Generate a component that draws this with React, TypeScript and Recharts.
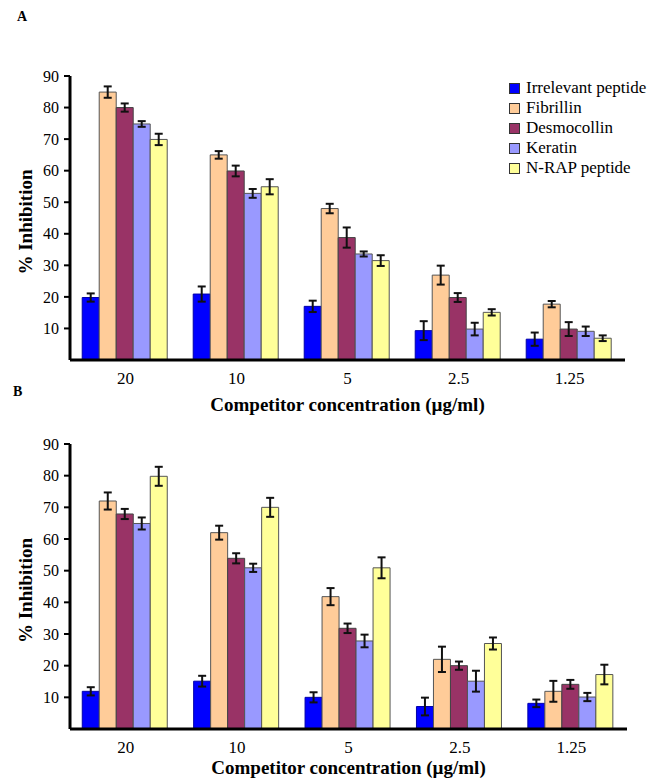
import { BarChart, Bar, XAxis, YAxis, Legend, ErrorBar } from "recharts";

const categories = ["20", "10", "5", "2.5", "1.25"];
const yTicks = [10, 20, 30, 40, 50, 60, 70, 80, 90];

// panel A
const irrelevantA = [19.8, 20.9, 17, 9.3, 6.6];
const irrelevantAErr = [1.3, 2.4, 1.8, 3, 2.1];
const fibrillinA = [84.9, 65, 48, 26.9, 17.7];
const fibrillinAErr = [1.8, 1.2, 1.5, 3, 1];
const desmocollinA = [80, 59.9, 38.8, 19.8, 9.8];
const desmocollinAErr = [1.3, 1.7, 3.2, 1.4, 2.2];
const keratinA = [74.8, 52.8, 33.6, 9.8, 9.1];
const keratinAErr = [0.9, 1.4, 0.8, 2, 1.5];
const nrapA = [69.9, 54.9, 31.5, 15.1, 6.9];
const nrapAErr = [1.8, 2.4, 1.7, 1, 0.9];

// panel B
const irrelevantB = [11.9, 15.1, 10, 7.1, 8.1];
const irrelevantBErr = [1.3, 1.7, 1.6, 2.8, 1.2];
const fibrillinB = [72, 62, 41.8, 22, 11.9];
const fibrillinBErr = [2.7, 2.2, 2.7, 4, 3.3];
const desmocollinB = [67.9, 53.9, 31.8, 20, 14.1];
const desmocollinBErr = [1.6, 1.6, 1.5, 1.3, 1.4];
const keratinB = [64.9, 50.9, 27.8, 15.1, 10.1];
const keratinBErr = [1.9, 1.3, 2, 3.3, 1.3];
const nrapB = [79.8, 70, 50.9, 27, 17.2];
const nrapBErr = [3, 3, 3.3, 1.9, 3.1];

const series = [
  { key: "irrelevant", name: "Irrelevant peptide", fill: "#0000ff", stroke: "#0000aa" },
  { key: "fibrillin", name: "Fibrillin", fill: "#ffcc99", stroke: "#555555" },
  { key: "desmocollin", name: "Desmocollin", fill: "#993366", stroke: "#444444" },
  { key: "keratin", name: "Keratin", fill: "#9999ff", stroke: "#555555" },
  { key: "nrap", name: "N-RAP peptide", fill: "#ffff99", stroke: "#555555" },
];

const dataA = categories.map((cat, i) => ({
  cat,
  irrelevant: irrelevantA[i], irrelevantErr: irrelevantAErr[i],
  fibrillin: fibrillinA[i], fibrillinErr: fibrillinAErr[i],
  desmocollin: desmocollinA[i], desmocollinErr: desmocollinAErr[i],
  keratin: keratinA[i], keratinErr: keratinAErr[i],
  nrap: nrapA[i], nrapErr: nrapAErr[i],
}));

const dataB = categories.map((cat, i) => ({
  cat,
  irrelevant: irrelevantB[i], irrelevantErr: irrelevantBErr[i],
  fibrillin: fibrillinB[i], fibrillinErr: fibrillinBErr[i],
  desmocollin: desmocollinB[i], desmocollinErr: desmocollinBErr[i],
  keratin: keratinB[i], keratinErr: keratinBErr[i],
  nrap: nrapB[i], nrapErr: nrapBErr[i],
}));

const FONT = "'Liberation Serif', 'Times New Roman', serif";

function LegendBox() {
  return (
    <div style={{ fontFamily: FONT, fontSize: 17, color: "#000", whiteSpace: "nowrap", textAlign: "left" }}>
      {series.map((s) => (
        <div key={s.key} style={{ display: "flex", alignItems: "center", height: 20 }}>
          <span
            style={{
              display: "inline-block",
              width: 9,
              height: 9,
              background: s.fill,
              border: "1px solid #333",
              marginRight: 6,
            }}
          />
          <span>{s.name}</span>
        </div>
      ))}
    </div>
  );
}

function xTitle(dy: number) {
  return (props: any) => {
    const vb = props.viewBox;
    return (
      <text
        x={vb.x + vb.width / 2}
        y={vb.y + dy}
        textAnchor="middle"
        fontFamily={FONT}
        fontWeight="bold"
        fontSize={19}
        fill="#000"
      >
        Competitor concentration (µg/ml)
      </text>
    );
  };
}

function yTitle(props: any) {
  const vb = props.viewBox;
  const cx = 25;
  const cy = vb.y + vb.height / 2 + 4;
  return (
    <text
      x={cx}
      y={cy}
      transform={`rotate(-90 ${cx} ${cy})`}
      textAnchor="middle"
      dominantBaseline="central"
      fontFamily={FONT}
      fontWeight="bold"
      fontSize={19}
      fill="#000"
    >
      % Inhibition
    </text>
  );
}

function Panel({ data, height, marginTop, marginRight, xAxisHeight, titleDy, legend }: any) {
  return (
    <BarChart
      width={647}
      height={height}
      data={data}
      margin={{ top: marginTop, right: marginRight, left: 0, bottom: 0 }}
      barCategoryGap="11%"
      barGap={0}
    >
      <XAxis
        dataKey="cat"
        height={xAxisHeight}
        tickLine={false}
        axisLine={{ stroke: "#000", strokeWidth: 3 }}
        tick={{ fontSize: 17, fill: "#000", fontFamily: FONT }}
        tickMargin={6}
        label={{ content: xTitle(titleDy) }}
      />
      <YAxis
        width={70}
        domain={[0, 90]}
        ticks={yTicks}
        interval={0}
        tickSize={6}
        tickMargin={5}
        tickLine={{ stroke: "#000", strokeWidth: 2 }}
        axisLine={{ stroke: "#000", strokeWidth: 3 }}
        tick={{ fontSize: 16, fill: "#000", fontFamily: FONT }}
        label={{ content: yTitle }}
      />
      {legend && (
        <Legend
          layout="vertical"
          verticalAlign="middle"
          align="center"
          content={() => <LegendBox />}
          wrapperStyle={{ top: 78, left: 509, right: "auto", bottom: "auto", width: 160 }}
        />
      )}
      {series.map((s) => (
        <Bar
          key={s.key}
          dataKey={s.key}
          name={s.name}
          fill={s.fill}
          stroke={s.stroke}
          strokeWidth={1}
          isAnimationActive={false}
        >
          <ErrorBar
            dataKey={`${s.key}Err`}
            width={4}
            strokeWidth={2}
            stroke="#111"
            direction="y"
            isAnimationActive={false}
          />
        </Bar>
      ))}
    </BarChart>
  );
}

export default function App() {
  return (
    <div
      style={{
        position: "absolute",
        left: 0,
        top: 0,
        width: 647,
        height: 779,
        overflow: "hidden",
        background: "#fff",
        fontFamily: FONT,
      }}
    >
      <div style={{ position: "absolute", left: 17, top: 9, fontWeight: "bold", fontSize: 14 }}>A</div>
      <div style={{ position: "absolute", left: 13, top: 384, fontWeight: "bold", fontSize: 14 }}>B</div>
      <div style={{ position: "absolute", left: 0, top: 0 }}>
        <Panel
          data={dataA}
          height={415}
          marginTop={76}
          marginRight={22}
          xAxisHeight={55}
          titleDy={51}
          legend
        />
      </div>
      <div style={{ position: "absolute", left: 0, top: 390 }}>
        <Panel
          data={dataB}
          height={389}
          marginTop={54}
          marginRight={20}
          xAxisHeight={50}
          titleDy={45}
          legend={false}
        />
      </div>
    </div>
  );
}
